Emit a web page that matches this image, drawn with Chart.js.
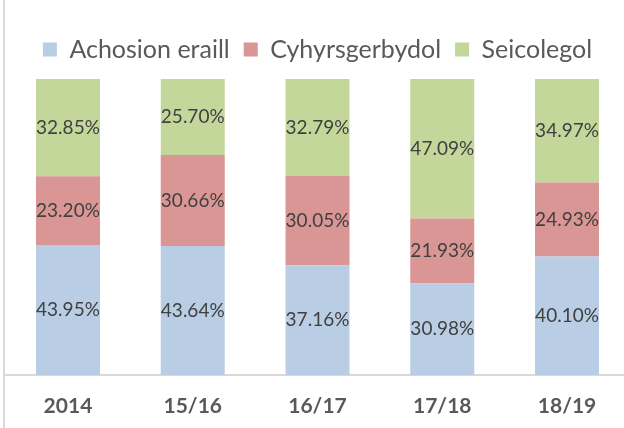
<!DOCTYPE html>
<html>
<head>
<meta charset="utf-8">
<script src="https://cdn.jsdelivr.net/npm/chart.js@4/dist/chart.umd.min.js"></script>
<style>
  html, body { margin: 0; padding: 0; background: #ffffff; overflow: hidden; }
  #wrap { position: relative; width: 624px; height: 428px; overflow: hidden; }
  canvas { position: absolute; left: 0; top: 0; }
</style>
</head>
<body>
<div id="wrap"><canvas id="chart" width="640" height="445"></canvas></div>
<script>
const categories = ["2014", "15/16", "16/17", "17/18", "18/19"];
const seriesNames = ["Achosion eraill", "Cyhyrsgerbydol", "Seicolegol"];
const otherCauses = [43.95, 43.64, 37.16, 30.98, 40.10];
const musculoskeletal = [23.20, 30.66, 30.05, 21.93, 24.93];
const psychological = [32.85, 25.70, 32.79, 47.09, 34.97];
const seriesColors = ["#b9cde5", "#da9694", "#c4d79b"];

const FONT = "Lato, 'Open Sans', sans-serif";

// labels in the middle of each segment, no datalabels plugin available
const segmentLabels = {
  id: "segmentLabels",
  afterDatasetsDraw(chart) {
    const ctx = chart.ctx;
    ctx.save();
    ctx.font = "19px " + FONT;
    ctx.fillStyle = "#404040";
    ctx.textAlign = "center";
    ctx.textBaseline = "middle";
    chart.data.datasets.forEach((ds, i) => {
      chart.getDatasetMeta(i).data.forEach((bar, j) => {
        const p = bar.getProps(["x", "y", "base"], true);
        ctx.fillText(ds.data[j].toFixed(2) + "%", p.x, (p.y + p.base) / 2);
      });
    });
    ctx.restore();
  }
};

// frame line on the left side of the chart box
const frameLine = {
  id: "frameLine",
  afterDraw(chart) {
    const ctx = chart.ctx;
    ctx.save();
    ctx.fillStyle = "#d9d9d9";
    ctx.fillRect(3, 0, 2, chart.height);
    ctx.restore();
  }
};

// a bit more room under the legend
const legendGap = {
  id: "legendGap",
  beforeInit(chart) {
    const legend = chart.legend;
    if (!legend) return;
    const fit = legend.fit;
    legend.fit = function () {
      fit.call(this);
      this.height += 7;
    };
  }
};

new Chart(document.getElementById("chart"), {
  type: "bar",
  data: {
    labels: categories,
    datasets: [
      { label: seriesNames[0], data: otherCauses, backgroundColor: seriesColors[0] },
      { label: seriesNames[1], data: musculoskeletal, backgroundColor: seriesColors[1] },
      { label: seriesNames[2], data: psychological, backgroundColor: seriesColors[2] }
    ]
  },
  options: {
    responsive: false,
    animation: false,
    layout: { padding: { left: 5.6, right: 10.6, top: 23, bottom: 8.6 } },
    datasets: {
      bar: {
        categoryPercentage: 1,
        barPercentage: 0.513,
        borderWidth: 0
      }
    },
    scales: {
      x: {
        stacked: true,
        grid: { display: false, drawTicks: false },
        border: { display: true, color: "#d9d9d9", width: 2 },
        ticks: {
          padding: 18,
          color: "#595959",
          font: { family: FONT, size: 21, weight: "bold" }
        }
      },
      y: {
        stacked: true,
        display: false,
        min: 0,
        max: 100
      }
    },
    plugins: {
      tooltip: { enabled: false },
      legend: {
        position: "top",
        labels: {
          boxWidth: 14,
          boxHeight: 14,
          padding: 14,
          color: "#595959",
          font: { family: FONT, size: 25 }
        }
      }
    }
  },
  plugins: [legendGap, segmentLabels, frameLine]
});
</script>
</body>
</html>
